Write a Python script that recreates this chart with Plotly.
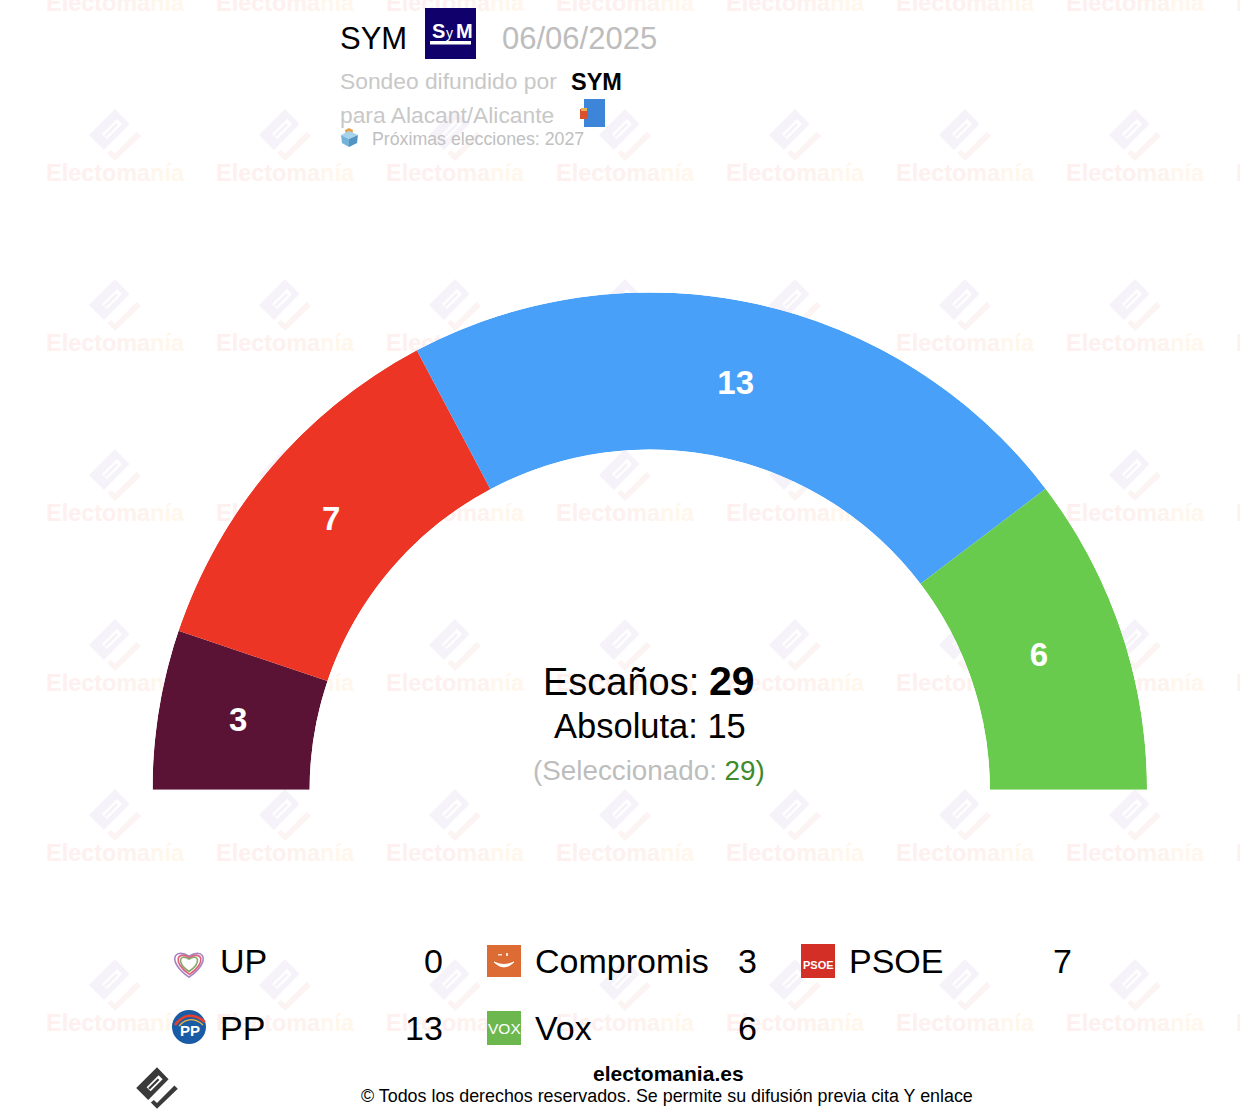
import plotly.graph_objects as go

# Seats
parties = ['UP', 'Compromis', 'PSOE', 'PP', 'Vox']
seats = [0, 3, 7, 13, 6]
colors = ['#9b59b6', '#5a1335', '#ec3524', '#48a0f9', '#68cb4d']
total_seats = 29
majority = 15
selected = 29

pollster = 'SYM'
poll_date = '06/06/2025'
place = 'Alacant/Alicante'
next_election = '2027'

FONT = 'Liberation Sans'
W, H = 1240, 1116

# watermark grid
wm_cols = [115, 285, 455, 625, 795, 965, 1135, 1305]
wm_rows = [-35, 135, 305, 475, 645, 815, 985]


def txt(x, y, text, size, color='black', anchor='left', bold=False):
    if bold:
        text = '<b>' + text + '</b>'
    # annotations keep a small pad round the text
    if anchor == 'left':
        x -= 2
    elif anchor == 'right':
        x += 2
    return dict(x=x, y=y, xref='x', yref='y', text=text, showarrow=False, xanchor=anchor, yanchor='middle',
                font=dict(family=FONT, size=size, color=color))


def poly(points, cx=0, cy=0, scale=1.0):
    return 'M' + ' L'.join('%.1f,%.1f' % (cx + a * scale, cy + b * scale) for a, b in points) + ' Z'


def logo_shapes(cx, cy, scale, c1, c2, layer):
    # upper block with its slit, then the lower tick
    outer = [(0, -26), (14.5, -11), (-11, 15), (-26, 0)]
    slit = [(2, -16), (7, -11), (-8, 4), (-13, -1)]
    inner = [(1, -12), (3, -10), (-9, 2), (-11, 0)]
    tick = [(21.7, -3.3), (26, 1), (0, 26), (-7.7, 18.3), (-4, 15), (0, 18.7)]
    return [
        dict(type='path', path=poly(outer, cx, cy, scale) + ' ' + poly(slit, cx, cy, scale) + ' ' + poly(inner, cx, cy, scale),
             fillcolor=c1, line_width=0, xref='x', yref='y', layer=layer, fillrule='evenodd'),
        dict(type='path', path=poly(tick, cx, cy, scale), fillcolor=c2, line_width=0, xref='x', yref='y', layer=layer),
    ]


def rect(x0, y0, x1, y1, color):
    return dict(type='rect', x0=x0, y0=y0, x1=x1, y1=y1, fillcolor=color, line_width=0, xref='x', yref='y')


def heart(cx, cy, s, color):
    p = 'M%.1f,%.1f C%.1f,%.1f %.1f,%.1f %.1f,%.1f C%.1f,%.1f %.1f,%.1f %.1f,%.1f Z' % (
        cx, cy + 0.95 * s, cx - 1.5 * s, cy - 0.1 * s, cx - 1.0 * s, cy - 1.05 * s, cx, cy - 0.45 * s,
        cx + 1.0 * s, cy - 1.05 * s, cx + 1.5 * s, cy - 0.1 * s, cx, cy + 0.95 * s)
    return dict(type='path', path=p, line=dict(color=color, width=1.6), xref='x', yref='y')


# Half circle: seats run from the left end (180 deg) round to the right
shown = [i for i in range(len(parties)) if seats[i] > 0]
theta, width = [], []
done = 0
for i in shown:
    w = seats[i] * 180 / total_seats
    theta.append(180 - done - w / 2)
    width.append(w)
    done += w

fig = go.Figure()

# watermark text sits on a full page cartesian layer, under the polar one
wm_x = [c for c in wm_cols for r in wm_rows]
wm_y = [r + 40 for c in wm_cols for r in wm_rows]
wm_label = ('<b><span style="color:#fdf0ee">Electo</span><span style="color:#fdf2ed">ma</span>'
            '<span style="color:#fff6ec">nía</span></b>')
fig.add_trace(go.Scatter(x=wm_x, y=wm_y, mode='text', text=[wm_label] * len(wm_x),
                         textfont=dict(family=FONT, size=23.4), hoverinfo='skip', showlegend=False))

fig.add_trace(go.Barpolar(theta=theta, width=width, r=[1] * len(shown),
                          marker=dict(color=[colors[i] for i in shown], line_width=0),
                          text=[parties[i] for i in shown], hoverinfo='text', showlegend=False))
# trailing nbsp pulls the seat numbers a little to the left
fig.add_trace(go.Scatterpolar(theta=theta, r=[0.47] * len(shown), mode='text',
                              text=['<b>%d</b><span style="font-size:22px">&nbsp;</span>' % seats[i] for i in shown],
                              textfont=dict(family=FONT, size=33, color='white'),
                              hoverinfo='skip', showlegend=False))

shapes = []
for c in wm_cols:
    for r in wm_rows:
        shapes += logo_shapes(c, r, 1.0, '#f6f2f9', '#fbf4f3', 'below')

# bottom logo
shapes += logo_shapes(157, 1088, 0.8, '#3a3a3a', '#3a3a3a', 'above')

# SYM logo
shapes.append(rect(425, 8, 476, 59, '#10006b'))
shapes.append(rect(430, 41, 471, 44.5, 'white'))

# flag
shapes.append(rect(584, 99, 605, 127, '#3d85d8'))
shapes.append(rect(580, 109, 588, 119, '#d9502e'))
shapes.append(rect(581, 108, 587, 111, '#e9b44c'))

# ballot box
shapes.append(dict(type='path', path=poly([(345, 130), (349, 128), (353, 130), (352, 136), (346, 136)]),
                   fillcolor='#e8a04c', line_width=0, xref='x', yref='y'))
shapes.append(dict(type='path', path=poly([(341, 135), (349, 131), (358, 135), (349, 139)]),
                   fillcolor='#a4d3ea', line_width=0, xref='x', yref='y'))
shapes.append(dict(type='path', path=poly([(341, 135), (349, 139), (349, 147), (342, 143)]),
                   fillcolor='#74b2d8', line_width=0, xref='x', yref='y'))
shapes.append(dict(type='path', path=poly([(358, 135), (349, 139), (349, 147), (357, 143)]),
                   fillcolor='#5294c4', line_width=0, xref='x', yref='y'))

# UP
shapes.append(heart(189, 963, 15, '#a884c4'))
shapes.append(heart(189.5, 963, 12, '#e0607a'))
shapes.append(heart(189, 963, 9, '#84a86c'))

# Compromis
shapes.append(rect(487, 945, 521, 977, '#dc6b34'))
shapes.append(dict(type='path', path='M494,962 Q504,972 514,962 Q504,967 494,962 Z', fillcolor='white',
                   line=dict(color='white', width=1), xref='x', yref='y'))
shapes.append(rect(498, 954, 502, 955.5, '#f8e0d0'))
shapes.append(rect(506, 953, 508, 956, '#f8e0d0'))

# PSOE and Vox
shapes.append(rect(801, 944, 835, 978, '#d32f27'))
shapes.append(rect(487, 1011, 521, 1045, '#6cb84e'))

# PP
shapes.append(dict(type='circle', x0=172, y0=1010, x1=206, y1=1044, fillcolor='#1a5ba6', line_width=0,
                   xref='x', yref='y'))
shapes.append(dict(type='path', path='M175,1025 Q188,1008 205,1022', line=dict(color='#e8402a', width=2.5),
                   xref='x', yref='y'))
shapes.append(dict(type='path', path='M179,1026 Q190,1014 203,1025', line=dict(color='#f4b63a', width=1.2),
                   xref='x', yref='y'))

annotations = [
    txt(340, 38, pollster, 31),
    txt(502, 38, poll_date, 31, '#bdbdbd'),
    txt(340, 81, 'Sondeo difundido por', 22.8, '#c8c8c8'),
    txt(571, 82, pollster, 23.5, bold=True),
    txt(340, 115, 'para ' + place, 22.8, '#c8c8c8'),
    txt(372, 139, 'Próximas elecciones: ' + next_election, 17.75, '#c0c0c0'),
    txt(438, 31, 'S', 20, 'white', 'center', bold=True),
    txt(449, 33, 'y', 14, 'white', 'center'),
    txt(464, 31, 'M', 20, 'white', 'center', bold=True),
    txt(543, 682, 'Escaños:', 38),
    txt(709, 681, str(total_seats), 41, bold=True),
    txt(650, 726, 'Absoluta: %d' % majority, 34.5, anchor='center'),
    txt(649, 770.5, '<span style="color:#bdbdbd">(Seleccionado: </span><span style="color:#3f8a2a">%d</span>'
        '<span style="color:#3f8a2a">)</span>' % selected, 27.8, anchor='center'),
    txt(818, 965, 'PSOE', 11, 'white', 'center', bold=True),
    txt(504, 1028, 'VOX', 15.5, 'white', 'center'),
    txt(190, 1030, 'PP', 15, 'white', 'center', bold=True),
    txt(668, 1073.5, 'electomania.es', 21, anchor='center', bold=True),
    txt(667, 1096, '© Todos los derechos reservados. Se permite su difusión previa cita Y enlace', 17.87, anchor='center'),
]

# Legend table, three columns
name_x = [220, 535, 849, 220, 535]
value_x = [443, 757, 1072, 443, 757]
row_y = [961, 961, 961, 1028, 1028]
for i in range(len(parties)):
    annotations.append(txt(name_x[i], row_y[i], parties[i], 34))
    annotations.append(txt(value_x[i], row_y[i], str(seats[i]), 34, anchor='right'))

fig.update_layout(
    width=W, height=H,
    margin=dict(l=0, r=0, t=0, b=0),
    paper_bgcolor='white',
    plot_bgcolor='rgba(0,0,0,0)',
    xaxis=dict(range=[0, W], visible=False, domain=[0, 1]),
    yaxis=dict(range=[H, 0], visible=False, domain=[0, 1]),
    polar=dict(
        domain=dict(x=[152.5 / W, 1147 / W], y=[1 - 790 / H, 1 - 292 / H]),
        sector=[0, 180],
        hole=0.684,
        bgcolor='rgba(0,0,0,0)',
        radialaxis=dict(range=[0, 1], visible=False),
        angularaxis=dict(visible=False),
    ),
    shapes=shapes,
    annotations=annotations,
    showlegend=False,
)

fig.write_html("out.html", config={'displayModeBar': False}, post_script="document.body.style.margin='0';")
